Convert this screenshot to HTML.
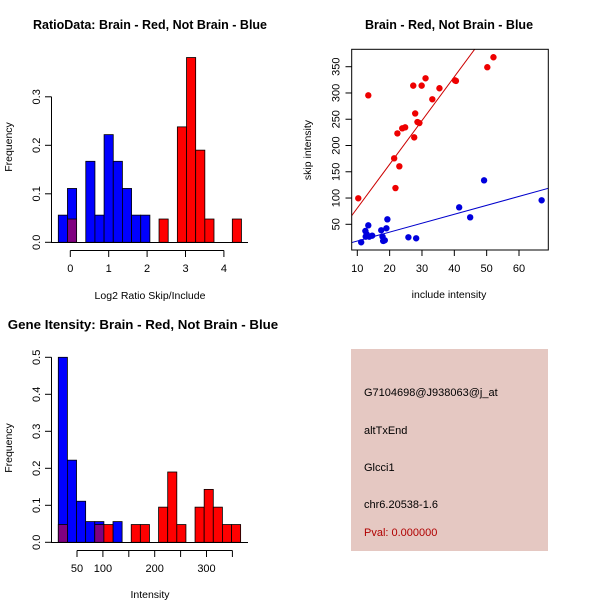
<!DOCTYPE html>
<html><head><meta charset="utf-8"><style>
body{margin:0;background:#fff}
svg{display:block;font-family:"Liberation Sans",Arial,sans-serif}
</style></head><body>
<svg id="c" width="600" height="600" xmlns="http://www.w3.org/2000/svg">
<rect x="0" y="0" width="600" height="600" fill="#fff"/>
<g>
<rect x="351" y="349" width="197" height="202" fill="#e5c8c2"/>
<text x="364" y="396" font-size="11" fill="#000">G7104698@J938063@j_at</text>
<text x="364" y="434" font-size="11" fill="#000">altTxEnd</text>
<text x="364" y="471" font-size="11" fill="#000">Glcci1</text>
<text x="364" y="508" font-size="11" fill="#000">chr6.20538-1.6</text>
<text x="364" y="536" font-size="11" fill="#b00000">Pval: 0.000000</text>
</g>
</svg>
<script>
// ---- Panel 1: ratio histogram ----
const ratioBinStart = -0.3125;
const ratioBinWidth = 0.2385;
const ratioBlueBins = [0,1,3,4,5,6,7,8,9];
const ratioBlueFreq = [0.056,0.111,0.167,0.056,0.222,0.167,0.111,0.056,0.056];
const ratioRedBins = [1,11,13,14,15,16,19];
const ratioRedFreq = [0.048,0.048,0.238,0.381,0.19,0.048,0.048];
const ratioXTicks = [0,1,2,3,4];
const ratioYTicks = [0,0.1,0.2,0.3];
// ---- Panel 2: scatter ----
const redInclude = [10.3,13.4,27.3,29.9,31.1,35.4,33.2,40.2,40.5,50.2,52.1,27.9,22.4,23.9,24.8,28.6,29.2,27.6,21.4,23.0,21.8];
const redSkip = [99.5,295.5,314,314,328,309,288,324,323,349,368,261,223,232.7,234.6,244.7,242.8,215.5,175.6,160.4,119];
const blueInclude = [11.2,12.5,12.6,12.9,13.4,13.7,14.6,17.4,17.8,18.0,18.5,19.0,19.3,25.8,28.2,41.5,44.9,49.2,67.0];
const blueSkip = [15.8,37.3,26.5,31,48,26.5,28.4,38.6,26.5,18.3,19.6,42.4,59.5,25.3,23.4,82.3,63.3,133.7,95.7];
const redFit = [-2.4,8.33];   // intercept, slope
const blueFit = [1.2,1.698];
const scatterXTicks = [10,20,30,40,50,60];
const scatterYTicks = [50,100,150,200,250,300,350];
// ---- Panel 3: intensity histogram ----
const intBinStart = 13.9;
const intBinWidth = 17.6;
const intBlueBins = [0,1,2,3,4,6];
const intBlueFreq = [0.5,0.222,0.111,0.056,0.056,0.056];
const intRedBins = [0,4,5,8,9,11,12,13,15,16,17,18,19];
const intRedFreq = [0.048,0.048,0.048,0.048,0.048,0.095,0.19,0.048,0.095,0.143,0.095,0.048,0.048];
const intXTicks = [50,100,150,200,250,300,350];
const intXLabels = ["50","100","","200","","300",""];
const intYTicks = [0,0.1,0.2,0.3,0.4,0.5];

const svg = document.getElementById('c');
const NS = 'http://www.w3.org/2000/svg';
function mk(tag, attrs, parent){
  const e = document.createElementNS(NS, tag);
  for (const k in attrs) e.setAttribute(k, attrs[k]);
  (parent||svg).appendChild(e);
  return e;
}
function txt(x,y,s,size,opts){
  const t = mk('text',{x:x,y:y,'font-size':size,'text-anchor':'middle',fill:'#000'});
  if(opts&&opts.bold) t.setAttribute('font-weight','bold');
  if(opts&&opts.rot) t.setAttribute('transform','rotate(-90 '+x+' '+y+')');
  t.textContent = s;
  return t;
}

// Panel 1
(function(){
  const px = v => 70.3 + v*38.4;
  const py = v => 242.3 - v*485;
  const bw = ratioBinWidth*38.4;
  ratioBlueFreq.forEach((f,i)=>{
    const x = px(ratioBinStart + ratioBlueBins[i]*ratioBinWidth);
    const r = mk('rect',{x:x,y:py(f),width:bw,height:py(0)-py(f),fill:'#0000ff',stroke:'#000','stroke-width':0.8});
    
    
  });
  ratioRedFreq.forEach((f,i)=>{
    const b = ratioRedBins[i];
    const overlap = ratioBlueBins.indexOf(b) >= 0;
    const x = px(ratioBinStart + b*ratioBinWidth);
    const r = mk('rect',{x:x,y:py(f),width:bw,height:py(0)-py(f),fill:overlap?'#800080':'#ff0000',stroke:'#000','stroke-width':0.8});
    
    
  });
  mk('line',{x1:51,y1:242.5,x2:248,y2:242.5,stroke:'#000'});
  mk('line',{x1:51.5,y1:py(0),x2:51.5,y2:py(0.3),stroke:'#000'});
  ratioYTicks.forEach(v=>{
    mk('line',{x1:45,y1:py(v),x2:51.5,y2:py(v),stroke:'#000'});
    const t = txt(40,py(v),v.toFixed(1),11,{rot:true});
    
    
  });
  mk('line',{x1:px(0),y1:250.5,x2:px(4),y2:250.5,stroke:'#000'});
  ratioXTicks.forEach(v=>{
    mk('line',{x1:px(v),y1:250.5,x2:px(v),y2:257,stroke:'#000'});
    const t = txt(px(v),272,String(v),11);
    
    
  });
  let t = txt(150,29,'RatioData: Brain - Red, Not Brain - Blue',12.5,{bold:true});
   
  t = txt(150,299,'Log2 Ratio Skip/Include',10.5);
   
  t = txt(12,147,'Frequency',10.5,{rot:true});
   
})();

// Panel 2
(function(){
  const px = v => 357.3 + (v-10)*3.234;
  const py = v => 224.3 - (v-50)*0.5253;
  const g = mk('g',{'clip-path':'url(#clip2)'});
  const cp = mk('clipPath',{id:'clip2'});
  mk('rect',{x:351.7,y:49.3,width:196.6,height:200.7},cp);
  [[redFit,'#cc0000','red-fit-line'],[blueFit,'#0000cc','blue-fit-line']].forEach(([f,c,n])=>{
    const l = mk('line',{x1:px(0),y1:py(f[0]),x2:px(80),y2:py(f[0]+f[1]*80),stroke:c,'stroke-width':1},g);
    
    
  });
  redInclude.forEach((x,i)=>{
    const c = mk('circle',{cx:px(x),cy:py(redSkip[i]),r:3.2,fill:'#ee0000'});
    
    
  });
  blueInclude.forEach((x,i)=>{
    const c = mk('circle',{cx:px(x),cy:py(blueSkip[i]),r:3.2,fill:'#0000dd'});
    
    
  });
  mk('rect',{x:351.7,y:49.3,width:196.6,height:200.7,fill:'none',stroke:'#000'});
  scatterXTicks.forEach(v=>{
    mk('line',{x1:px(v),y1:250,x2:px(v),y2:256,stroke:'#000'});
    const t = txt(px(v),272,String(v),11);
    
    
  });
  scatterYTicks.forEach(v=>{
    mk('line',{x1:345.5,y1:py(v),x2:351.7,y2:py(v),stroke:'#000'});
    const t = txt(339.5,py(v),String(v),11,{rot:true});
    
    
  });
  let t = txt(449,29,'Brain - Red, Not Brain - Blue',12.5,{bold:true});
   
  t = txt(449,298,'include intensity',10.5);
   
  t = txt(311,150,'skip intensity',10.5,{rot:true});
   
})();

// Panel 3
(function(){
  const px = v => 77 + (v-50)*0.518;
  const py = v => 542.3 - v*370;
  const bw = intBinWidth*0.518;
  intBlueFreq.forEach((f,i)=>{
    const x = px(intBinStart + intBlueBins[i]*intBinWidth);
    const r = mk('rect',{x:x,y:py(f),width:bw,height:py(0)-py(f),fill:'#0000ff',stroke:'#000','stroke-width':0.8});
    
    
  });
  intRedFreq.forEach((f,i)=>{
    const b = intRedBins[i];
    const overlap = intBlueBins.indexOf(b) >= 0;
    const x = px(intBinStart + b*intBinWidth);
    const r = mk('rect',{x:x,y:py(f),width:bw,height:py(0)-py(f),fill:overlap?'#800080':'#ff0000',stroke:'#000','stroke-width':0.8});
    
    
  });
  mk('line',{x1:51,y1:542.5,x2:248,y2:542.5,stroke:'#000'});
  mk('line',{x1:51.5,y1:py(0),x2:51.5,y2:py(0.5),stroke:'#000'});
  intYTicks.forEach(v=>{
    mk('line',{x1:45,y1:py(v),x2:51.5,y2:py(v),stroke:'#000'});
    const t = txt(40,py(v),v.toFixed(1),11,{rot:true});
    
    
  });
  mk('line',{x1:px(50),y1:550.5,x2:px(350),y2:550.5,stroke:'#000'});
  intXTicks.forEach((v,i)=>{
    mk('line',{x1:px(v),y1:550.5,x2:px(v),y2:557,stroke:'#000'});
    if(intXLabels[i]){
      const t = txt(px(v),572,intXLabels[i],11);
      
      
    }
  });
  let t = txt(143,329,'Gene Itensity: Brain - Red, Not Brain - Blue',13.3,{bold:true});
   
  t = txt(150,598,'Intensity',10.5);
   
  t = txt(12,448,'Frequency',10.5,{rot:true});
   
})();
</script>
</body></html>
